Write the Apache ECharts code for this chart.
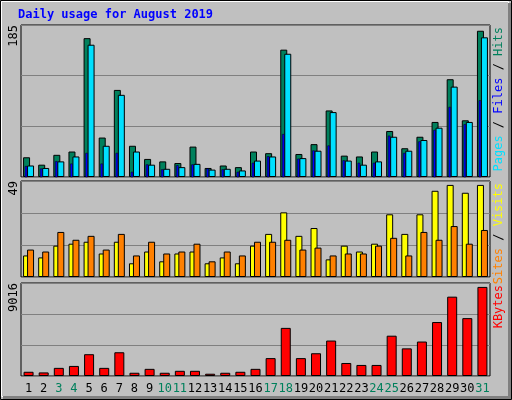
<!DOCTYPE html>
<html><head><meta charset="utf-8">
<script src="https://cdn.jsdelivr.net/npm/echarts@6/dist/echarts.min.js"></script>
<style>html,body{margin:0;padding:0;background:#c0c0c0}#c{width:512px;height:400px}</style>
</head><body><div id="c"></div>
<script>
const days = ['1','2','3','4','5','6','7','8','9','10','11','12','13','14','15','16','17','18','19','20','21','22','23','24','25','26','27','28','29','30','31'];
const weekend = ['3','4','10','11','17','18','24','25','31'];
const hits = [24,15,27,31,169,48,106,38,22,19,17,37,11,14,12,31,29,155,28,40,81,26,25,31,56,35,49,67,119,69,178];
const files = [14,11,19,25,161,38,100,31,15,10,12,16,9,10,8,20,25,150,23,32,79,20,15,19,49,32,45,60,110,67,170];
const pages = [13,10,19,16,29,16,29,6,15,9,14,15,10,9,6,17,25,52,22,32,38,20,17,17,50,29,43,57,85,64,93];
const visits = [11,10,16,17,18,12,18,7,13,8,12,13,7,10,7,16,22,33,21,25,9,16,13,17,32,22,32,44,47,43,47];
const sites = [14,13,23,19,21,14,22,11,18,12,13,17,8,13,11,18,18,19,14,15,11,12,12,16,20,11,23,19,26,17,24];
const kbytes = [410,347,788,977,2112,788,2301,315,693,315,504,504,220,315,410,693,1734,4665,1734,2206,3436,1261,1072,1072,3908,2679,3341,5232,7691,5610,8636];
const maxes = [185, 49, 9016];

const font = 'DejaVu Sans Mono';
const grids = [{top:25,height:152},{top:181,height:96},{top:283,height:93}].map(g=>({
  left:21,right:22,top:g.top,height:g.height,show:true,backgroundColor:'#c0c0c0',borderColor:'#000',borderWidth:1}));
const xAxes = [0,1,2].map(i=>({type:'category',gridIndex:i,data:days,
  axisLine:{show:false},axisTick:{show:false},
  axisLabel:{show:i===2,interval:0,margin:7,fontFamily:font,fontSize:12,
    formatter:v=>weekend.includes(v)?'{w|'+v+'}':'{n|'+v+'}',
    rich:{w:{color:'#00805c',fontFamily:font,fontSize:12},n:{color:'#000',fontFamily:font,fontSize:12}}}}));
const yAxes = maxes.map((m,i)=>({type:'value',gridIndex:i,min:0,max:m,interval:m/3,
  axisLabel:{show:false},axisLine:{show:false},axisTick:{show:false},
  splitLine:{lineStyle:{color:'#808080',width:1}}}));
const bs = {borderColor:'#000',borderWidth:1};
const series = [
  {type:'bar',xAxisIndex:0,yAxisIndex:0,data:hits,barWidth:7,barGap:'-43%',itemStyle:Object.assign({color:'#00805c'},bs)},
  {type:'bar',xAxisIndex:0,yAxisIndex:0,data:files,barWidth:7,barGap:'-43%',itemStyle:Object.assign({color:'#00e0ff'},bs)},
  {type:'custom',xAxisIndex:0,yAxisIndex:0,data:pages.map((v,i)=>[i,v]),z:5,
    renderItem:(p,api)=>{const a=api.coord([api.value(0),api.value(1)]);const b=api.coord([api.value(0),0]);
      return {type:'rect',shape:{x:a[0]-3.5,y:a[1],width:2,height:b[1]-a[1]},style:{fill:'#0000ff',stroke:'#000',lineWidth:0.5}};}},
  {type:'bar',xAxisIndex:1,yAxisIndex:1,data:visits,barWidth:7,barGap:'-43%',itemStyle:Object.assign({color:'#ffff00'},bs)},
  {type:'bar',xAxisIndex:1,yAxisIndex:1,data:sites,barWidth:7,barGap:'-43%',itemStyle:Object.assign({color:'#ff8000'},bs)},
  {type:'bar',xAxisIndex:2,yAxisIndex:2,data:kbytes,barWidth:10,itemStyle:Object.assign({color:'#ff0000'},bs)}
];
const rt = (x,y,txt)=>({type:'text',x:x,y:y,rotation:Math.PI/2,style:{text:txt,fill:'#000',font:'12px '+font,textAlign:'right',textVerticalAlign:'middle'}});
const f12 = '12px '+font;
const rr = (x,y,txt,rich,fill)=>({type:'text',x:x,y:y,rotation:Math.PI/2,style:{text:txt,rich:rich,fill:fill||'#000',font:f12,textAlign:'right',textVerticalAlign:'middle'}});
const graphic = [
  {type:'rect',shape:{x:0.5,y:0.5,width:511,height:399},style:{fill:'none',stroke:'#000',lineWidth:1}},
  {type:'rect',shape:{x:1.5,y:1.5,width:507,height:395},style:{fill:'none',stroke:'#fff',lineWidth:1}},
  {type:'rect',shape:{x:3,y:396,width:508,height:3},style:{fill:'#808080'}},
  {type:'rect',shape:{x:508,y:3,width:3,height:396},style:{fill:'#808080'}},
  {type:'text',x:18,y:9,style:{text:'Daily usage for August 2019',font:'bold 12px '+font,fill:'#0000ff'}},
  rt(14,25,'185'), rt(14,181,'49'), rt(14,283,'9016'),
  rr(499,27,'{p|Pages}{s| / }{f|Files}{s| / }{h|Hits}',
    {p:{fill:'#00e0ff',font:f12},f:{fill:'#0000ff',font:f12},h:{fill:'#00805c',font:f12},s:{fill:'#000',font:f12}}),
  rr(499,183,'{a|Sites}{s| / }{b|Visits}',{a:{fill:'#ff8000',font:f12},b:{fill:'#ffff00',font:f12},s:{fill:'#000',font:f12}}),
  rr(499,285,'KBytes',null,'#ff0000')
];
const chart = echarts.init(document.getElementById('c'));
chart.setOption({animation:false,backgroundColor:'#c0c0c0',grid:grids,xAxis:xAxes,yAxis:yAxes,series:series,graphic:graphic});
</script></body></html>
